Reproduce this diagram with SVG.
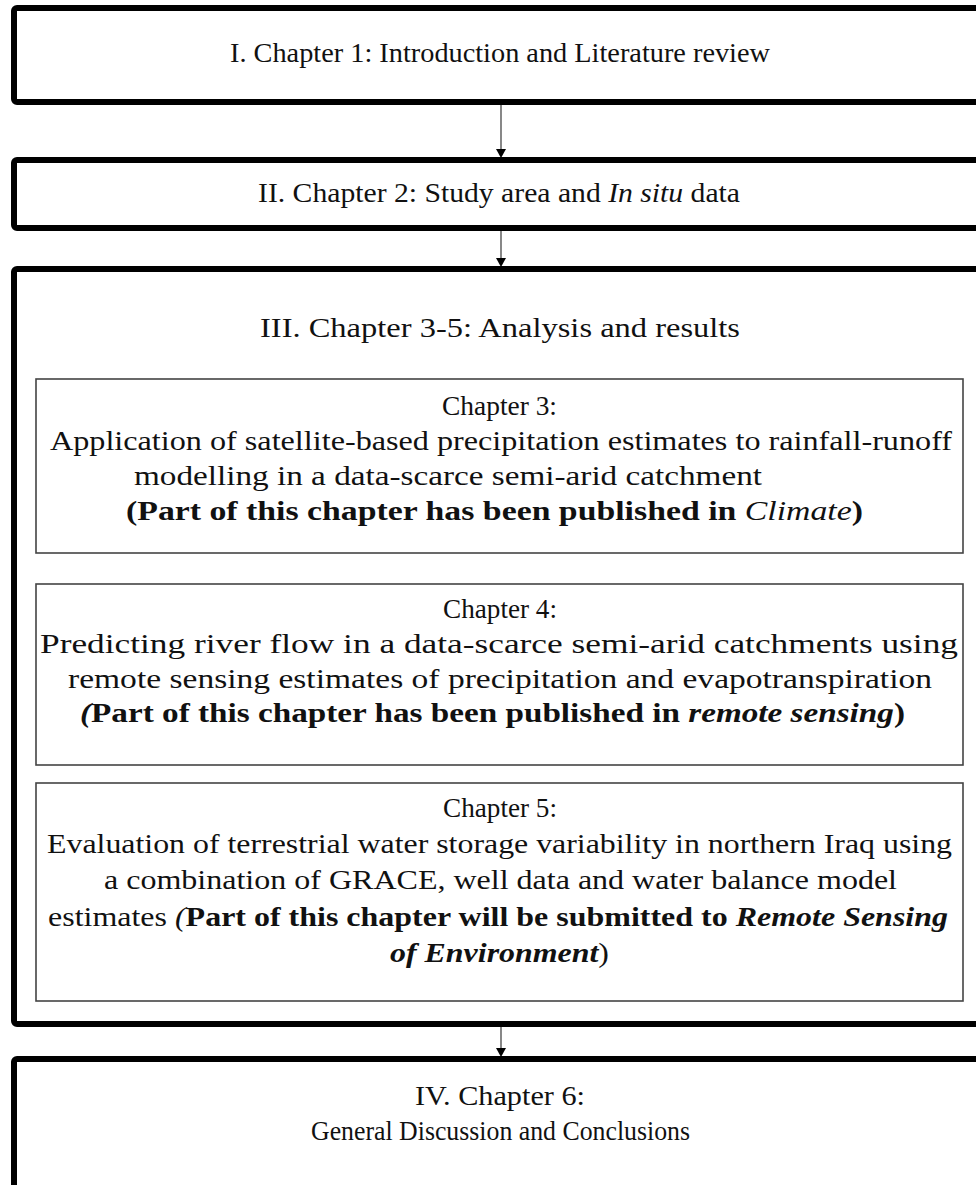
<svg xmlns="http://www.w3.org/2000/svg" width="976" height="1185" viewBox="0 0 976 1185">
<style>
.outer{fill:#fff;stroke:#000;stroke-width:6}
.inner{fill:#fff;stroke:#444;stroke-width:1.6}
.t{font-family:"Liberation Serif","Times New Roman",serif;font-size:28px;fill:#111}
.b{font-weight:bold}
.i{font-style:italic}
.conn{stroke:#555;stroke-width:1.4;fill:none}
.head{fill:#000}
</style>
<rect width="976" height="1185" fill="#fff"/>
<g id="connectors">
<line class="conn" x1="501" y1="105" x2="501" y2="150"/>
<path class="head" d="M496,149 L506,149 L501,158 Z"/>
<line class="conn" x1="501" y1="231" x2="501" y2="259"/>
<path class="head" d="M496,258 L506,258 L501,267 Z"/>
<line class="conn" x1="501" y1="1027" x2="501" y2="1049"/>
<path class="head" d="M496,1048 L506,1048 L501,1057 Z"/>
</g>
<g id="ch1">
<rect class="outer" x="14" y="8" width="980" height="94" rx="3"/>
<text class="t" x="230" y="62" textLength="540" lengthAdjust="spacingAndGlyphs">I. Chapter 1: Introduction and Literature review</text>
</g>
<g id="ch2">
<rect class="outer" x="14" y="160" width="980" height="68" rx="3"/>
<text class="t" x="258" y="202" textLength="482" lengthAdjust="spacingAndGlyphs">II. Chapter 2: Study area and <tspan class="i">In situ</tspan> data</text>
</g>
<g id="ch3-5">
<rect class="outer" x="14" y="269" width="980" height="755" rx="3"/>
<text class="t" x="260" y="337" textLength="480" lengthAdjust="spacingAndGlyphs">III. Chapter 3-5: Analysis and results</text>
</g>
<g id="ch3">
<rect class="inner" x="36" y="379" width="927" height="174"/>
<text class="t" x="442" y="415" textLength="115" lengthAdjust="spacingAndGlyphs">Chapter 3:</text>
<text class="t" x="50" y="450" textLength="902" lengthAdjust="spacingAndGlyphs">Application of satellite-based precipitation estimates to rainfall-runoff</text>
<text class="t" x="134" y="485" textLength="628" lengthAdjust="spacingAndGlyphs">modelling in a data-scarce semi-arid catchment</text>
<text class="t b" x="126" y="520" textLength="737" lengthAdjust="spacingAndGlyphs">(Part of this chapter has been  published in <tspan class="i" font-weight="normal">Climate</tspan>)</text>
</g>
<g id="ch4">
<rect class="inner" x="36" y="584" width="927" height="181"/>
<text class="t" x="443" y="618" textLength="114" lengthAdjust="spacingAndGlyphs">Chapter 4:</text>
<text class="t" x="40" y="653" textLength="918" lengthAdjust="spacingAndGlyphs">Predicting river flow in a data-scarce semi-arid catchments using</text>
<text class="t" x="68" y="688" textLength="864" lengthAdjust="spacingAndGlyphs">remote sensing estimates of precipitation and evapotranspiration</text>
<text class="t b" x="80" y="722" textLength="825" lengthAdjust="spacingAndGlyphs"><tspan class="i">(</tspan>Part of this chapter has been  published in <tspan class="i">remote sensing</tspan>)</text>
</g>
<g id="ch5">
<rect class="inner" x="36" y="783" width="927" height="218"/>
<text class="t" x="443" y="817" textLength="114" lengthAdjust="spacingAndGlyphs">Chapter 5:</text>
<text class="t" x="47" y="853" textLength="905" lengthAdjust="spacingAndGlyphs">Evaluation of terrestrial water storage variability in northern Iraq using</text>
<text class="t" x="104" y="889" textLength="793" lengthAdjust="spacingAndGlyphs">a combination of GRACE, well data and water balance model</text>
<text class="t" x="48" y="926" textLength="900" lengthAdjust="spacingAndGlyphs">estimates <tspan class="i">(</tspan><tspan class="b">Part of this chapter will be submitted to </tspan><tspan class="b i">Remote Sensing</tspan></text>
<text class="t" x="390" y="962" textLength="219" lengthAdjust="spacingAndGlyphs"><tspan class="b i">of Environment</tspan>)</text>
</g>
<g id="ch6">
<rect class="outer" x="14" y="1059" width="980" height="150" rx="3"/>
<text class="t" x="415" y="1105" textLength="170" lengthAdjust="spacingAndGlyphs">IV. Chapter 6:</text>
<text class="t" x="311" y="1140" textLength="379" lengthAdjust="spacingAndGlyphs">General Discussion and Conclusions</text>
</g>
</svg>
